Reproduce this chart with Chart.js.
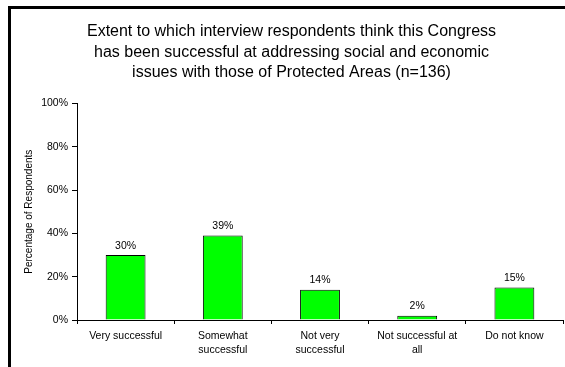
<!DOCTYPE html>
<html>
<head>
<meta charset="utf-8">
<script src="https://cdn.jsdelivr.net/npm/chart.js@4/dist/chart.umd.min.js"></script>
<style>
  html, body { margin: 0; padding: 0; background: #fff; }
  #wrap { position: relative; width: 565px; height: 367px; overflow: hidden; }
  #frame { position: absolute; left: 8px; top: 6px; width: 700px; height: 500px;
           border-left: 3px solid #000; border-top: 3px solid #000; }
  canvas { position: absolute; left: 0; top: 0; }
</style>
</head>
<body>
<div id="wrap">
  <div id="frame"></div>
  <canvas id="chart" width="565" height="367"></canvas>
</div>
<script>
// data
const categories = [
  ['Very successful'],
  ['Somewhat', 'successful'],
  ['Not very', 'successful'],
  ['Not successful at', 'all'],
  ['Do not know']
];
const percentages = [30, 39, 14, 2, 15];
const yTicks = [0, 20, 40, 60, 80, 100];
const titleLines = [
  'Extent to which interview respondents think this Congress',
  'has been successful at addressing social and economic',
  'issues with those of Protected Areas (n=136)'
];

const FONT = "'Liberation Sans', Arial, sans-serif";

// draws the "30%" style labels above each bar
const barLabels = {
  id: 'barLabels',
  afterDatasetsDraw(chart) {
    const ctx = chart.ctx;
    const meta = chart.getDatasetMeta(0);
    ctx.save();
    ctx.font = '10.5px ' + FONT;
    ctx.fillStyle = '#000';
    ctx.textAlign = 'center';
    ctx.textBaseline = 'bottom';
    meta.data.forEach((bar, i) => {
      ctx.fillText(percentages[i] + '%', bar.x, bar.y - 4);
    });
    ctx.restore();
  }
};

new Chart(document.getElementById('chart'), {
  type: 'bar',
  data: {
    labels: categories,
    datasets: [{
      data: percentages,
      backgroundColor: '#00FF00',
      borderColor: '#000',
      borderWidth: 1,
      barPercentage: 0.41,
      categoryPercentage: 1
    }]
  },
  options: {
    responsive: false,
    animation: false,
    layout: { padding: { left: 20, right: 2, top: 0, bottom: 0 } },
    plugins: {
      legend: { display: false },
      tooltip: { enabled: false },
      title: {
        display: true,
        text: titleLines,
        color: '#000',
        font: { family: FONT, size: 16, weight: 'normal', lineHeight: 1.3 },
        padding: { top: 21, bottom: 20 }
      }
    },
    scales: {
      x: {
        offset: true,
        grid: { offset: true, drawOnChartArea: false, tickLength: 4, color: '#000' },
        border: { color: '#000', width: 1 },
        ticks: {
          color: '#000',
          padding: 6,
          maxRotation: 0,
          autoSkip: false,
          font: { family: FONT, size: 10.5, lineHeight: 1.25 }
        },
        afterFit(scale) { scale.height = 47; }
      },
      y: {
        min: 0,
        max: 100,
        afterBuildTicks(scale) { scale.ticks = yTicks.map(v => ({ value: v })); },
        grid: { drawOnChartArea: false, tickLength: 5, color: '#000' },
        border: { color: '#000', width: 1 },
        ticks: {
          color: '#000',
          padding: 4,
          font: { family: FONT, size: 10.5 },
          callback: v => v + '%'
        },
        title: {
          display: true,
          text: 'Percentage of Respondents',
          color: '#000',
          font: { family: FONT, size: 10 },
          padding: { top: 3, bottom: 0 }
        },
        afterFit(scale) { scale.width = 57; }
      }
    }
  },
  plugins: [barLabels]
});
</script>
</body>
</html>
